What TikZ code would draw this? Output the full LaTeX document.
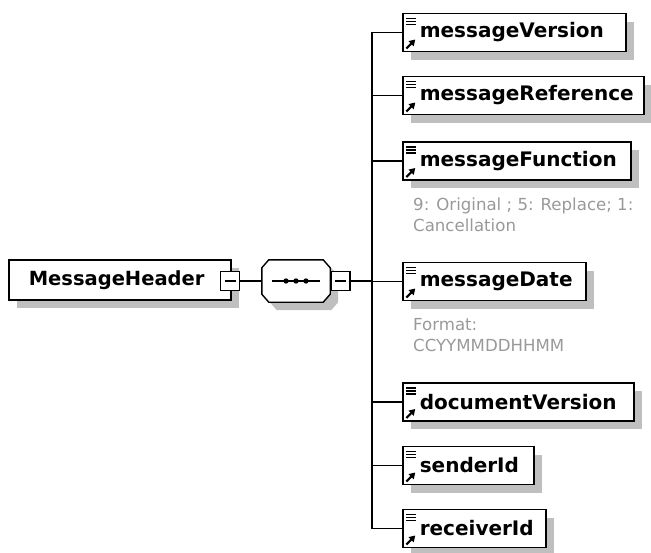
\documentclass[tikz,border=0pt]{standalone}
\usepackage{fontspec}
\setmainfont{DejaVu Sans}
\usetikzlibrary{shadows,arrows.meta}

\begin{document}
\begin{tikzpicture}[x=1pt, y=-1pt, line join=miter]
        \tikzstyle{shade} = [drop shadow={shadow xshift=8pt, shadow yshift=-8pt, fill=black!25, opacity=1}]
        \tikzstyle{box} = [draw=black, line width=1.6pt, fill=white, anchor=west, inner sep=0pt, minimum height=38pt, align=left, font=\fontsize{20}{23}\selectfont\bfseries, shade]
        \tikzstyle{elem} = [box, execute at begin node={\hspace*{17pt}}, path picture={
                \draw[line width=1.4pt] ([shift={(3,5)}]path picture bounding box.north west) -- ++(10,0) ++(-10,3) -- ++(10,0) ++(-10,3) -- ++(10,0);
                \draw[line width=2.2pt, -{Triangle[length=6pt,width=7pt]}] ([shift={(3.5,-3)}]path picture bounding box.south west) -- ++(9,-9);}]
        \tikzstyle{root} = [box, minimum height=40pt, font=\fontsize{19.5}{23}\selectfont\bfseries, execute at begin node={\hspace*{20pt}}]
        \tikzstyle{minus} = [draw=black, line width=1.2pt, fill=white, minimum size=19pt, inner sep=0pt, path picture={
                \draw[line width=1.2pt] ([xshift=4pt]path picture bounding box.west) -- ([xshift=-4pt]path picture bounding box.east);}]
        \tikzstyle{seq} = [minimum width=68pt, minimum height=42pt, inner sep=0pt]
        \tikzstyle{note} = [anchor=north west, inner sep=0pt, align=left, text=black!40, font=\fontsize{16.6}{21}\selectfont]
        \tikzstyle{wire} = [line width=1.6pt]

        \useasboundingbox (0,0) rectangle (651,552);

        % root element and sequence
        \node[root, text width=222pt] (mh) at (8,280) {MessageHeader};
        \node[minus] (mhm) at (230,281) {};
        \node[seq] (sq) at (296,281) {};
        \filldraw[fill=white, line width=1.4pt, shade]
                ([xshift=7pt]sq.north west) -- ([xshift=-7pt]sq.north east) -- ([yshift=-8pt]sq.north east)
                -- ([yshift=8pt]sq.south east) -- ([xshift=-7pt]sq.south east) -- ([xshift=7pt]sq.south west)
                -- ([yshift=8pt]sq.south west) -- ([yshift=-8pt]sq.north west) -- cycle;
        \draw[line width=1.3pt] ([xshift=10pt]sq.west) -- ([xshift=-10pt]sq.east);
        \foreach \dx in {-10,0,10}
                \fill ([xshift=\dx pt]sq.center) circle (2.7pt);
        \node[minus] (sqm) at (340.5,281) {};
        \coordinate (bus) at (372,281);

        % child elements
        \node[elem, text width=223pt] (mv) at (402,32.5) {messageVersion};
        \node[elem, text width=241pt] (mr) at (402,95.5) {messageReference};
        \node[elem, text width=228pt] (mf) at (402,161) {messageFunction};
        \node[note] (mfn) at (413,197.5) {9: Original ; 5: Replace; 1:\\Cancellation};
        \node[elem, text width=183pt] (md) at (402,281.5) {messageDate};
        \node[note] (mdn) at (413,318) {Format:\\CCYYMMDDHHMM};
        \node[elem, text width=231pt] (dv) at (402,402) {documentVersion};
        \node[elem, text width=131pt] (si) at (402,465.5) {senderId};
        \node[elem, text width=143pt] (ri) at (402,528.5) {receiverId};

        \draw[wire] (mhm.east) -- (sq.west);
        \draw[wire] (sqm.east) -- (bus);
        \foreach \n in {mv,mr,mf,md,dv,si,ri}
                \draw[wire] (bus) |- (\n.west);
\end{tikzpicture}
\end{document}
